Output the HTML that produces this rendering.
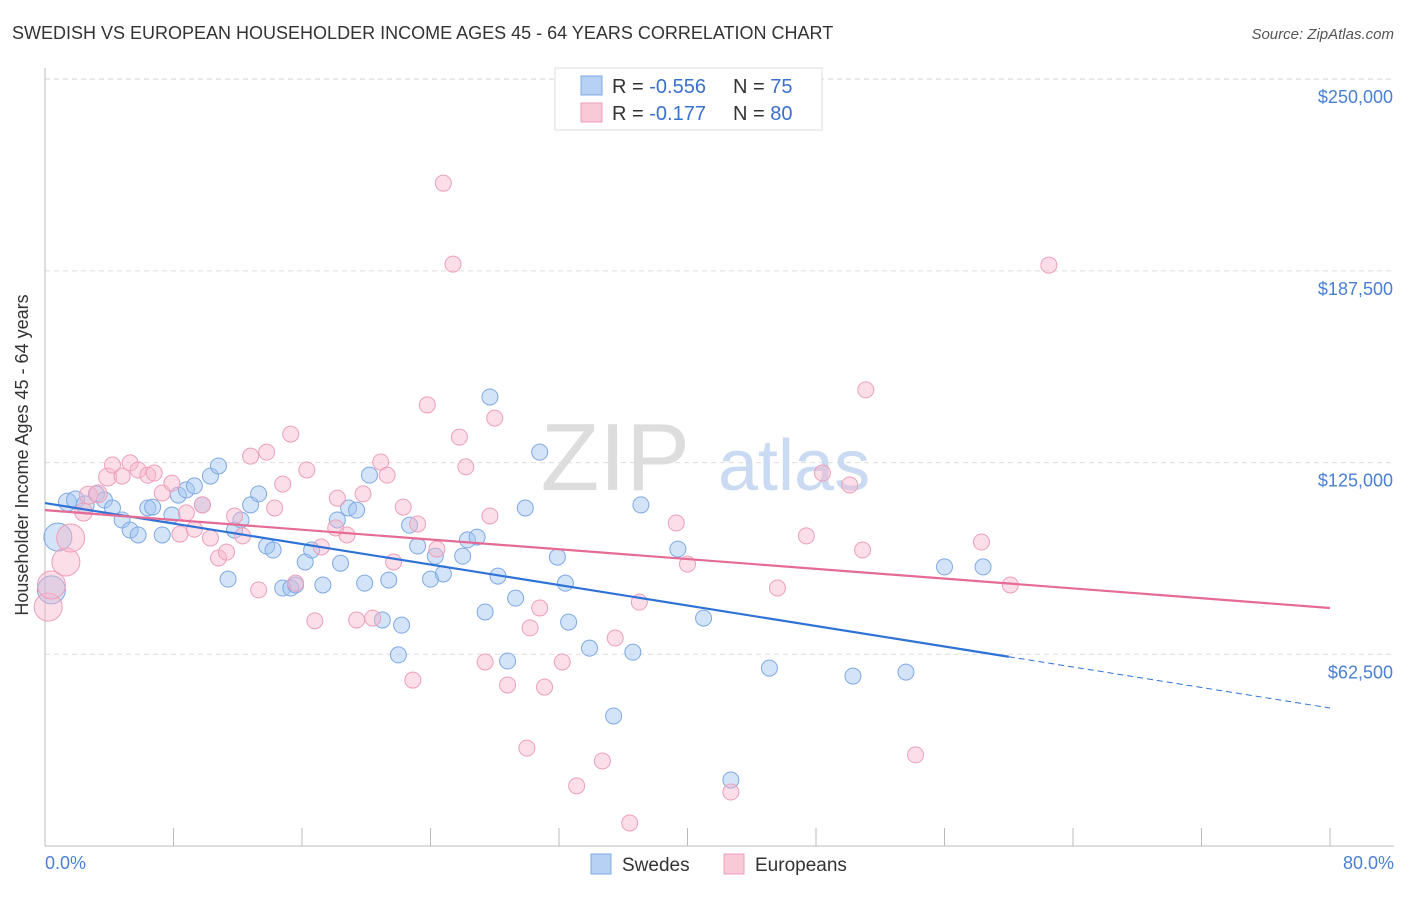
<!DOCTYPE html>
<html><head><meta charset="utf-8">
<style>
body{margin:0;background:#fff;font-family:"Liberation Sans",sans-serif;}
svg text{font-family:"Liberation Sans",sans-serif;}
</style></head>
<body>
<svg id="chart" width="1406" height="892" xmlns="http://www.w3.org/2000/svg">
<text x="12" y="39" font-size="18" fill="#333">SWEDISH VS EUROPEAN HOUSEHOLDER INCOME AGES 45 - 64 YEARS CORRELATION CHART</text>
<text x="1394" y="39" font-size="15" fill="#555" font-style="italic" text-anchor="end">Source: ZipAtlas.com</text>
<g id="grid"></g>
<text x="690" y="490" font-size="96" fill="#ddd" text-anchor="end" font-family="Liberation Serif">ZIP</text>
<text x="718" y="490" font-size="72" fill="#c9daf2">atlas</text>
<g id="marks"></g>
<text x="28" y="455" font-size="18" fill="#333" text-anchor="middle" transform="rotate(-90 28 455)">Householder Income Ages 45 - 64 years</text>
<text x="45" y="869" font-size="18" fill="#4a7fd4">0.0%</text>
<text x="1394" y="869" font-size="18" fill="#4a7fd4" text-anchor="end">80.0%</text>
<g>
<rect x="555" y="68" width="267" height="62" fill="#fff" stroke="#ddd"/>
<rect x="581" y="76" width="21" height="19" fill="#b7d1f4" stroke="#7ea9e3"/>
<rect x="581" y="103" width="21" height="19" fill="#fac9d8" stroke="#ee9fb9"/>
<text x="612" y="93" font-size="20" fill="#333">R = <tspan fill="#3a70cf">-0.556</tspan></text>
<text x="733" y="93" font-size="20" fill="#333">N = <tspan fill="#3a70cf"> 75</tspan></text>
<text x="612" y="120" font-size="20" fill="#333">R = <tspan fill="#3a70cf"> -0.177</tspan></text>
<text x="733" y="120" font-size="20" fill="#333">N = <tspan fill="#3a70cf">80</tspan></text>
</g>
<g>
<rect x="591" y="854" width="20" height="20" fill="#b7d1f4" stroke="#7ea9e3"/>
<text x="622" y="871" font-size="19" fill="#333">Swedes</text>
<rect x="724" y="854" width="20" height="20" fill="#fac9d8" stroke="#ee9fb9"/>
<text x="755" y="871" font-size="19" fill="#333">Europeans</text>
</g>
</svg>
<script>
const yTicks=[62500,125000,187500,250000];
const yTickLabels=["$62,500","$125,000","$187,500","$250,000"];
const xTicks=[0,8,16,24,32,40,48,56,64,72,80];
const blueX=[0.4,0.8,1.4,1.9,2.5,3.2,3.7,4.2,4.8,5.3,5.8,6.4,6.7,7.3,7.9,8.3,8.8,9.3,9.8,10.3,10.8,11.4,11.8,12.2,12.8,13.3,13.8,14.2,14.8,15.3,15.6,16.2,16.6,17.3,18.2,18.4,18.9,19.4,19.9,20.2,21.0,21.4,22.0,22.2,22.7,23.2,24.0,24.3,24.8,26.0,26.3,26.9,27.4,27.7,28.2,28.8,29.3,29.9,30.8,31.9,32.4,32.6,33.9,35.4,36.6,37.1,39.4,41.0,42.7,45.1,50.3,53.6,56.0,58.4];
const blueY=[83.5,100.7,112.1,112.8,111.2,114.8,112.8,110.2,106.3,103.0,101.4,110.2,110.5,101.4,107.9,114.4,116.1,117.4,111.2,120.6,123.9,87.0,103.0,106.3,111.2,114.8,97.8,96.5,84.1,84.1,85.1,92.6,96.5,85.1,106.3,92.2,110.2,109.5,85.7,120.9,73.7,86.7,62.3,72.0,104.6,97.8,87.0,94.5,88.7,94.5,99.8,100.7,76.3,146.4,88.0,60.3,80.8,110.2,128.4,94.2,85.7,73.0,64.5,42.4,63.2,111.2,96.8,74.3,21.5,58.0,55.4,56.7,91.0,91.0];
const blueR=[14,14,9,9,9,8,8,8,8,8,8,8,8,8,8,8,8,8,8,8,8];
const pinkX=[0.2,0.4,1.3,1.6,2.4,2.7,3.3,3.9,4.2,4.8,5.3,5.8,6.4,6.8,7.3,7.9,8.4,8.8,9.3,9.8,10.3,10.8,11.3,11.8,12.3,12.8,13.3,13.8,14.3,14.8,15.3,15.6,16.3,16.8,17.2,18.1,18.2,18.8,19.4,19.8,20.4,20.9,21.3,21.7,22.3,22.9,23.2,23.8,24.4,24.8,25.4,25.8,26.2,27.4,27.7,28.0,28.8,30.0,30.2,30.8,31.1,32.2,33.1,34.7,35.5,36.4,37.0,39.3,40.0,42.7,45.6,47.4,48.4,50.1,50.9,51.1,54.2,58.3,60.1,62.5];
const pinkY=[77.9,85.1,92.6,100.4,108.9,114.4,114.8,120.3,124.2,120.6,124.9,122.6,120.9,121.6,115.1,118.3,101.7,108.6,103.3,111.2,100.4,93.9,95.8,107.6,101.1,127.1,83.5,128.4,110.2,118.0,134.3,85.7,122.6,73.4,97.5,103.7,113.4,101.4,73.7,114.8,74.3,125.2,120.9,92.6,110.5,54.1,105.0,143.8,96.8,216.1,189.7,133.3,123.6,60.0,107.6,139.5,52.5,31.9,71.1,77.6,51.8,60.0,19.6,27.7,67.8,7.5,79.5,105.3,91.9,17.6,84.1,101.1,121.6,117.7,96.5,148.7,29.7,99.1,85.1,189.4];
const pinkR=[14,14,14,14,9,9,9,9,8,8];
const blueLine=[111.8,45.0]; // value at 0% and 80%
const blueSolidEnd=60;
const pinkLine=[109.5,77.6];

const NS="http://www.w3.org/2000/svg";
const X0=45,X1=1330,Y0=846,YPER=191.7/62500;
function xs(v){return X0+(X1-X0)*v/80;}
function ys(v){return Y0-v*YPER;}
function mk(tag,attrs,parent){const e=document.createElementNS(NS,tag);for(const k in attrs)e.setAttribute(k,attrs[k]);parent.appendChild(e);return e;}
const grid=document.getElementById('grid');
const marks=document.getElementById('marks');
const svg=document.getElementById('chart');
let tl=mk('line',{x1:45,x2:1394,y1:79,y2:79,stroke:'#ddd','stroke-dasharray':'5,4'},grid);


yTicks.forEach((t,i)=>{
  const l=mk('line',{x1:45,x2:1394,y1:ys(t),y2:ys(t),stroke:'#ddd','stroke-dasharray':'5,4'},grid);
  
  
  const tx=mk('text',{x:1393,y:ys(t)+24,'font-size':18,fill:'#4a7fd4','text-anchor':'end'},grid);
  tx.textContent=yTickLabels[i];
  
  
});
let ax=mk('line',{x1:45,x2:1394,y1:846,y2:846,stroke:'#bbb'},grid);


let ay=mk('line',{x1:45,x2:45,y1:68,y2:846,stroke:'#bbb'},grid);


xTicks.forEach(t=>{
  const l=mk('line',{x1:xs(t),x2:xs(t),y1:828,y2:846,stroke:'#bbb'},grid);
  
  
});
blueX.forEach((x,i)=>{
  const c=mk('circle',{cx:xs(x),cy:ys(blueY[i]*1000),r:blueR[i]||8,fill:'rgba(160,196,240,0.45)',stroke:'#7ea9e3','stroke-width':1},marks);
  
  
});
pinkX.forEach((x,i)=>{
  const c=mk('circle',{cx:xs(x),cy:ys(pinkY[i]*1000),r:pinkR[i]||8,fill:'rgba(247,182,203,0.45)',stroke:'#ee9fb9','stroke-width':1},marks);
  
  
});
function lv(line,x){return (line[0]+(line[1]-line[0])*x/80)*1000;}
let bl=mk('line',{x1:xs(0),y1:ys(lv(blueLine,0)),x2:xs(blueSolidEnd),y2:ys(lv(blueLine,blueSolidEnd)),stroke:'#2f72d6','stroke-width':2.2},marks);


let bd=mk('line',{x1:xs(blueSolidEnd),y1:ys(lv(blueLine,blueSolidEnd)),x2:xs(80),y2:ys(lv(blueLine,80)),stroke:'#2f72d6','stroke-width':1,'stroke-dasharray':'6,4'},marks);


let pl=mk('line',{x1:xs(0),y1:ys(lv(pinkLine,0)),x2:xs(80),y2:ys(lv(pinkLine,80)),stroke:'#e56b94','stroke-width':2.2},marks);


</script>
</body></html>
